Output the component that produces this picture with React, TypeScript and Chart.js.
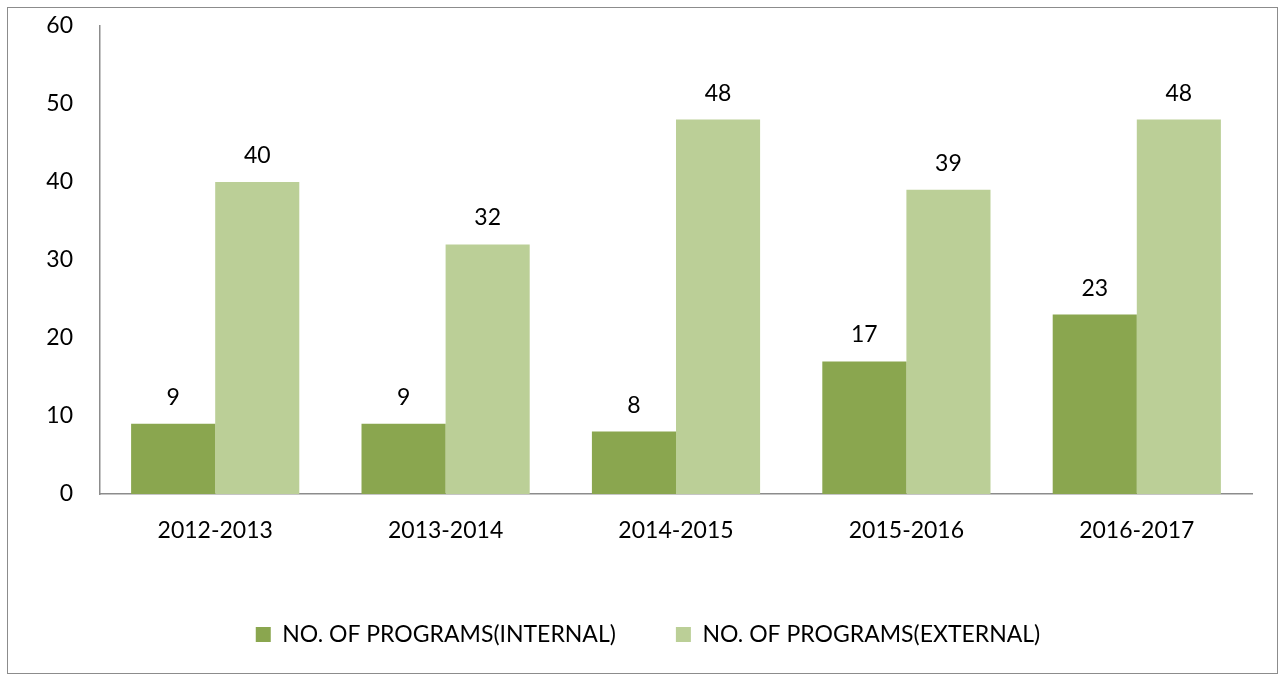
import React, { useEffect, useRef } from "react";
import { Chart, registerables } from "chart.js";

Chart.register(...registerables);

const categories = ["2012-2013", "2013-2014", "2014-2015", "2015-2016", "2016-2017"];
const internalValues = [9, 9, 8, 17, 23];
const externalValues = [40, 32, 48, 39, 48];
const seriesNames = ["NO. OF PROGRAMS(INTERNAL)", "NO. OF PROGRAMS(EXTERNAL)"];
const yTicks = [0, 10, 20, 30, 40, 50, 60];

const FONT = "Lato, 'Open Sans', sans-serif";
const FS = 23;

const valueLabels = {
  id: "valueLabels",
  afterDatasetsDraw(chart: any) {
    const ctx = chart.ctx;
    ctx.save();
    ctx.font = `${FS}px ${FONT}`;
    ctx.fillStyle = "#000";
    ctx.textAlign = "center";
    ctx.textBaseline = "alphabetic";
    chart.data.datasets.forEach((ds: any, di: number) => {
      const meta = chart.getDatasetMeta(di);
      meta.data.forEach((bar: any, i: number) => {
        ctx.fillText(String(ds.data[i]), bar.x, bar.y - 19);
      });
    });
    ctx.restore();
  },
};

const legendShift = {
  id: "legendShift",
  afterLayout(chart: any) {
    if (chart.legend) {
      chart.legend.left += 18;
      chart.legend.right += 18;
    }
  },
};

export default function App() {
  const ref = useRef<HTMLCanvasElement | null>(null);
  useEffect(() => {
    if (!ref.current) return;
    const chart = new Chart(ref.current, {
      type: "bar",
      data: {
        labels: categories,
        datasets: [
          {
            label: seriesNames[0],
            data: internalValues,
            backgroundColor: "#8aa64f",
            barPercentage: 1,
            categoryPercentage: 0.73,
          },
          {
            label: seriesNames[1],
            data: externalValues,
            backgroundColor: "#bbcf97",
            barPercentage: 1,
            categoryPercentage: 0.73,
          },
        ],
      },
      options: {
        animation: false,
        responsive: false,
        maintainAspectRatio: false,
        layout: { padding: { top: 18, right: 25, bottom: 17, left: 0 } },
        plugins: {
          tooltip: { enabled: false },
          legend: {
            position: "bottom",
            labels: {
              font: { family: FONT, size: FS },
              color: "#000",
              boxWidth: 15,
              boxHeight: 15,
              padding: 60,
            },
          },
        },
        scales: {
          x: {
            grid: { display: false, drawTicks: false },
            border: { display: true, color: "#8c8c8c", width: 1.5 },
            ticks: { font: { family: FONT, size: FS }, color: "#000", padding: 23 },
            afterFit: (s: any) => {
              s.height = 69;
            },
          },
          y: {
            min: 0,
            max: 60,
            afterBuildTicks: (s: any) => {
              s.ticks = yTicks.map((v) => ({ value: v }));
            },
            grid: { display: false, drawTicks: false },
            border: { display: true, color: "#8c8c8c", width: 1.5 },
            ticks: { font: { family: FONT, size: FS }, color: "#000", padding: 27 },
            afterFit: (s: any) => {
              s.width = 92;
              s.paddingTop = 0;
              s.paddingBottom = 0;
            },
          },
        },
      },
      plugins: [valueLabels, legendShift],
    });
    return () => chart.destroy();
  }, []);
  return (
    <div
      style={{
        position: "absolute",
        left: 7,
        top: 7,
        width: 1271,
        height: 667,
        border: "1px solid #8c8c8c",
        boxSizing: "border-box",
        background: "#fff",
      }}
    >
      <canvas ref={ref} width={1269} height={665} style={{ display: "block" }} />
    </div>
  );
}
